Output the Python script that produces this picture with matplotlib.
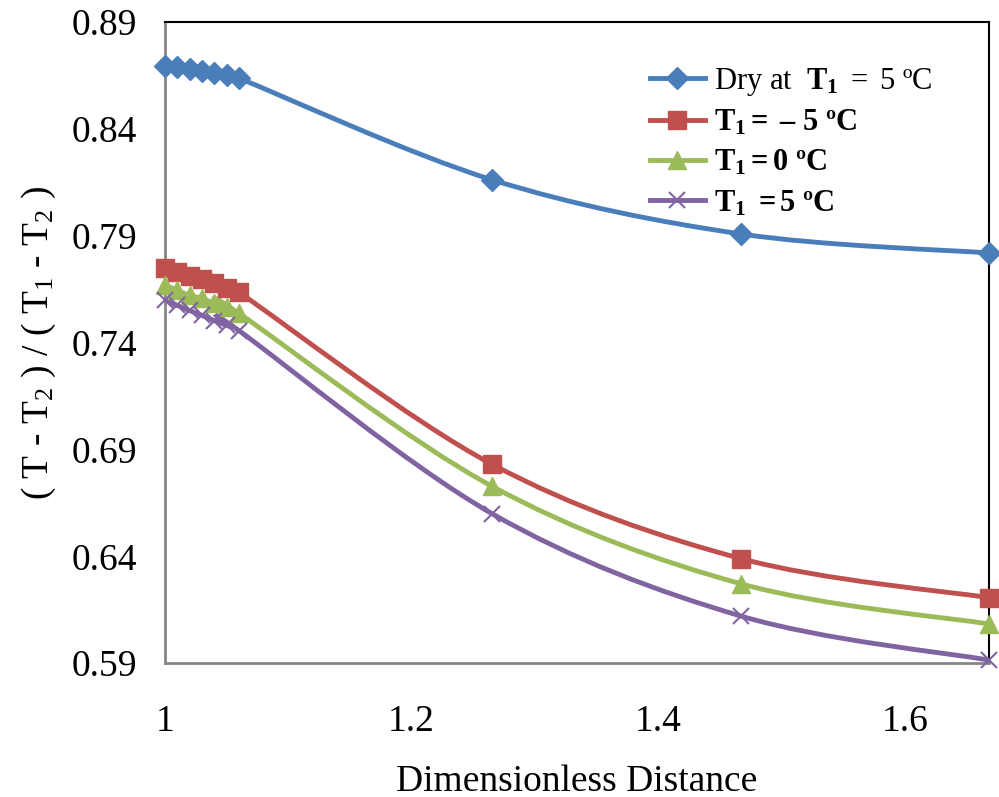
import numpy as np
import matplotlib
matplotlib.use('Agg')
import matplotlib.pyplot as plt
from matplotlib.path import Path
from matplotlib.patches import PathPatch
from matplotlib.lines import Line2D

plt.rcParams['font.family'] = ['Liberation Serif', 'DejaVu Serif']
plt.rcParams['mathtext.fontset'] = 'custom'
plt.rcParams['mathtext.rm'] = 'Liberation Serif'
plt.rcParams['mathtext.it'] = 'Liberation Serif:italic'
plt.rcParams['mathtext.bf'] = 'Liberation Serif:bold'

# data
x = [1.0, 1.01, 1.02, 1.03, 1.04, 1.05, 1.06, 1.265, 1.467, 1.668]
dry = [0.8693, 0.8688, 0.8679, 0.8669, 0.8660, 0.8650, 0.8637, 0.8162, 0.7908, 0.7819]
t_m5 = [0.7748, 0.7730, 0.7711, 0.7697, 0.7678, 0.7654, 0.7635, 0.6831, 0.6389, 0.6206]
t_0 = [0.7668, 0.7645, 0.7621, 0.7607, 0.7584, 0.7565, 0.7537, 0.6728, 0.6271, 0.6083]
t_5 = [0.7597, 0.7574, 0.7550, 0.7527, 0.7503, 0.7480, 0.7456, 0.6600, 0.6120, 0.5914]

yticks = [0.59, 0.64, 0.69, 0.74, 0.79, 0.84, 0.89]
xticks = [1, 1.2, 1.4, 1.6]
xtick_labels = ['1', '1.2', '1.4', '1.6']

series = [
    (dry, '#4A7EBB', 'D', 11, r'Dry at  $\mathbf{T_1}$ $=$ 5 ºC'),
    (t_m5, '#C0504D', 's', 13, r'$\mathbf{T_1 =}$ $\mathbf{–\ 5}$ $\mathbf{ºC}$'),
    (t_0, '#9BBB59', '^', 13, r'$\mathbf{T_1 = 0}$ $\mathbf{ºC}$'),
    (t_5, '#8064A2', 'x', 12, r'$\mathbf{T_1}$ $\mathbf{= 5}$ $\mathbf{ºC}$'),
]


def smooth_path(xs, ys):
    # excel-like smoothed line: cubic bezier segments through the data points
    pts = np.column_stack([xs, ys])
    verts = [pts[0]]
    codes = [Path.MOVETO]
    n = len(pts)
    for i in range(n - 1):
        p0 = pts[i - 1] if i > 0 else pts[i]
        p1 = pts[i]
        p2 = pts[i + 1]
        p3 = pts[i + 2] if i + 2 < n else pts[i + 1]
        c1 = p1 + (p2 - p0) / 6.0
        c2 = p2 - (p3 - p1) / 6.0
        verts += [c1, c2, p2]
        codes += [Path.CURVE4] * 3
    return Path(verts, codes)


fig = plt.figure(figsize=(9.99, 7.97), dpi=100)
ax = fig.add_axes([0.165, 0.168, 0.825, 0.8044])

handles = []
for ys, color, marker, ms, label in series:
    ax.add_patch(PathPatch(smooth_path(x, ys), facecolor='none', edgecolor=color,
                           lw=3.5, capstyle='round', zorder=2))
    mew = 1.5 if marker == 'x' else 1
    ax.plot(x, ys, linestyle='none', marker=marker, markersize=ms, color=color,
            markeredgewidth=mew, zorder=3, clip_on=False)
    handles.append(Line2D([], [], color=color, lw=3.5, marker=marker,
                          markersize=ms, markeredgewidth=mew, label=label))

ax.set_xlim(1, 1.668)
ax.set_ylim(0.59, 0.89)
ax.set_xticks(xticks)
ax.set_xticklabels(xtick_labels)
ax.set_yticks(yticks)
ax.set_yticklabels([f'{v:.2f}' for v in yticks])
ax.tick_params(length=0, labelsize=27, pad=20)
ax.tick_params(axis='x', pad=30)

ax.spines['left'].set_color('#868686')
ax.spines['bottom'].set_color('#868686')
ax.spines['left'].set_linewidth(2)
ax.spines['bottom'].set_linewidth(2)
ax.spines['top'].set_color('black')
ax.spines['right'].set_color('black')
ax.spines['top'].set_linewidth(1.5)
ax.spines['right'].set_linewidth(1.5)

ax.set_xlabel('Dimensionless Distance', fontsize=27, labelpad=18)
ax.set_ylabel(r'( T - T$_2$ ) / ( T$_1$ - T$_2$ )', fontsize=27, labelpad=10)

ax.legend(handles=handles, loc='upper right', bbox_to_anchor=(0.965, 0.975),
          frameon=False, fontsize=22, handlelength=1.8, labelspacing=0.35,
          handletextpad=0.3)

fig.savefig('out.png', dpi=100)
